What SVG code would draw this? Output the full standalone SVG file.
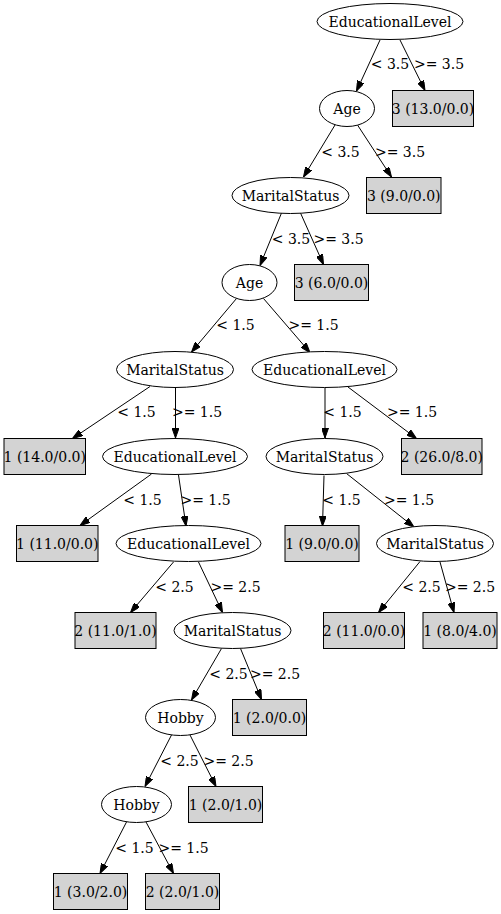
<svg xmlns="http://www.w3.org/2000/svg" width="501" height="914" viewBox="0 0 501 914">
<defs>
<marker id="ah" markerUnits="userSpaceOnUse" markerWidth="10" markerHeight="7" refX="10" refY="3.5" orient="auto">
<path d="M0,0 L10,3.5 L0,7 z" fill="#000" stroke="#000" stroke-width="1"/>
</marker>
</defs>
<style>
text{font-family:"DejaVu Serif",serif;font-size:14px;fill:#000;text-anchor:middle}
ellipse{fill:#fff;stroke:#000;stroke-width:1}
rect{fill:#d3d3d3;stroke:#000;stroke-width:1}
#edges line{stroke:#000;stroke-width:1;marker-end:url(#ah)}
</style>
<rect x="0" y="0" width="501" height="914" style="fill:#fff;stroke:none"/>
<g id="edges">
<line x1="380" y1="40" x2="356.5" y2="91"/>
<line x1="400" y1="40" x2="425" y2="90.5"/>
<line x1="335" y1="125" x2="303.5" y2="177"/>
<line x1="357.5" y1="125" x2="391.5" y2="177"/>
<line x1="281.5" y1="213" x2="260" y2="265.5"/>
<line x1="300.5" y1="213" x2="323.5" y2="264.5"/>
<line x1="236.5" y1="298.5" x2="191.5" y2="352"/>
<line x1="263.5" y1="298.5" x2="310" y2="352.5"/>
<line x1="150" y1="386.5" x2="72.5" y2="438.5"/>
<line x1="175.5" y1="387.5" x2="175.5" y2="438"/>
<line x1="325" y1="387.5" x2="325" y2="438"/>
<line x1="348" y1="387" x2="416.5" y2="438.5"/>
<line x1="151.5" y1="474" x2="80" y2="525.5"/>
<line x1="178.5" y1="475" x2="186" y2="526"/>
<line x1="324" y1="475.5" x2="322.5" y2="526"/>
<line x1="346.5" y1="473.5" x2="414" y2="527"/>
<line x1="173.5" y1="562" x2="130.5" y2="612.5"/>
<line x1="198.5" y1="562" x2="222.5" y2="612.5"/>
<line x1="420" y1="561.5" x2="378.5" y2="612.5"/>
<line x1="440" y1="562" x2="454" y2="612.5"/>
<line x1="221.5" y1="648.5" x2="191.5" y2="700"/>
<line x1="240.5" y1="648.5" x2="261.5" y2="699.5"/>
<line x1="171.5" y1="735" x2="145" y2="786.5"/>
<line x1="190" y1="735" x2="216" y2="786.5"/>
<line x1="126.5" y1="822" x2="100" y2="873.5"/>
<line x1="146" y1="822" x2="173.5" y2="873.5"/>
</g>
<g id="edge-labels">
<text x="390" y="69">&lt; 3.5</text><text x="439" y="69">&gt;= 3.5</text>
<text x="340.5" y="156.5">&lt; 3.5</text><text x="400" y="156.5">&gt;= 3.5</text>
<text x="291" y="244">&lt; 3.5</text><text x="338.5" y="244">&gt;= 3.5</text>
<text x="235.5" y="330">&lt; 1.5</text><text x="313.5" y="330">&gt;= 1.5</text>
<text x="136.5" y="417">&lt; 1.5</text><text x="197" y="417">&gt;= 1.5</text>
<text x="342.5" y="417">&lt; 1.5</text><text x="412" y="417">&gt;= 1.5</text>
<text x="142.5" y="504.5">&lt; 1.5</text><text x="205.5" y="504.5">&gt;= 1.5</text>
<text x="341.5" y="504.5">&lt; 1.5</text><text x="409" y="504.5">&gt;= 1.5</text>
<text x="174.5" y="591.5">&lt; 2.5</text><text x="235.5" y="591.5">&gt;= 2.5</text>
<text x="421.5" y="591.5">&lt; 2.5</text><text x="470" y="591.5">&gt;= 2.5</text>
<text x="228.5" y="678.5">&lt; 2.5</text><text x="275" y="678.5">&gt;= 2.5</text>
<text x="179.5" y="765.5">&lt; 2.5</text><text x="228.5" y="765.5">&gt;= 2.5</text>
<text x="134.5" y="852.5">&lt; 1.5</text><text x="183.5" y="852.5">&gt;= 1.5</text>
</g>
<g id="n0"><ellipse cx="390" cy="21.5" rx="73" ry="18"/><text x="390" y="26.5">EducationalLevel</text></g>
<g id="n1"><ellipse cx="347" cy="108.5" rx="27.5" ry="18"/><text x="347" y="113.5">Age</text></g>
<g id="n2"><rect x="392.5" y="90.5" width="81" height="36"/><text x="433" y="113.5">3 (13.0/0.0)</text></g>
<g id="n3"><ellipse cx="290.5" cy="195.5" rx="58.5" ry="18"/><text x="290.5" y="200.5">MaritalStatus</text></g>
<g id="n4"><rect x="366.5" y="177.5" width="74.5" height="36"/><text x="403.75" y="200.5">3 (9.0/0.0)</text></g>
<g id="n5"><ellipse cx="249.5" cy="282.5" rx="27.5" ry="18"/><text x="249.5" y="287.5">Age</text></g>
<g id="n6"><rect x="294.5" y="264.5" width="74" height="36"/><text x="331.5" y="287.5">3 (6.0/0.0)</text></g>
<g id="n7"><ellipse cx="175" cy="369.5" rx="58.5" ry="18"/><text x="175" y="374.5">MaritalStatus</text></g>
<g id="n8"><ellipse cx="324.5" cy="369.5" rx="72.5" ry="18"/><text x="324.5" y="374.5">EducationalLevel</text></g>
<g id="n9"><rect x="4" y="438.5" width="81.5" height="36"/><text x="44.75" y="461.5">1 (14.0/0.0)</text></g>
<g id="n10"><ellipse cx="175" cy="456.5" rx="72.5" ry="18"/><text x="175" y="461.5">EducationalLevel</text></g>
<g id="n11"><ellipse cx="324.5" cy="456.5" rx="58.5" ry="18"/><text x="324.5" y="461.5">MaritalStatus</text></g>
<g id="n12"><rect x="401.5" y="438.5" width="80.5" height="36"/><text x="441.75" y="461.5">2 (26.0/8.0)</text></g>
<g id="n13"><rect x="16.5" y="525.5" width="81.5" height="36"/><text x="57.25" y="548.5">1 (11.0/0.0)</text></g>
<g id="n14"><ellipse cx="188.5" cy="543.5" rx="72.5" ry="18"/><text x="188.5" y="548.5">EducationalLevel</text></g>
<g id="n15"><rect x="285" y="525.5" width="74" height="36"/><text x="322" y="548.5">1 (9.0/0.0)</text></g>
<g id="n16"><ellipse cx="435" cy="543.5" rx="58.5" ry="18"/><text x="435" y="548.5">MaritalStatus</text></g>
<g id="n17"><rect x="75" y="612.5" width="81" height="36"/><text x="115.5" y="635.5">2 (11.0/1.0)</text></g>
<g id="n18"><ellipse cx="232.5" cy="630.5" rx="58.5" ry="18"/><text x="232.5" y="635.5">MaritalStatus</text></g>
<g id="n19"><rect x="323.5" y="612.5" width="81" height="36"/><text x="364" y="635.5">2 (11.0/0.0)</text></g>
<g id="n20"><rect x="423" y="612.5" width="74" height="36"/><text x="460" y="635.5">1 (8.0/4.0)</text></g>
<g id="n21"><ellipse cx="180.5" cy="717.5" rx="35" ry="18"/><text x="180.5" y="722.5">Hobby</text></g>
<g id="n22"><rect x="232.5" y="699.5" width="74" height="36"/><text x="269.5" y="722.5">1 (2.0/0.0)</text></g>
<g id="n23"><ellipse cx="136.5" cy="804.5" rx="35" ry="18"/><text x="136.5" y="809.5">Hobby</text></g>
<g id="n24"><rect x="188.5" y="786.5" width="74" height="36"/><text x="225.5" y="809.5">1 (2.0/1.0)</text></g>
<g id="n25"><rect x="53.5" y="873.5" width="74" height="36"/><text x="90.5" y="896.5">1 (3.0/2.0)</text></g>
<g id="n26"><rect x="145.5" y="873.5" width="74" height="36"/><text x="182.5" y="896.5">2 (2.0/1.0)</text></g>
</svg>
